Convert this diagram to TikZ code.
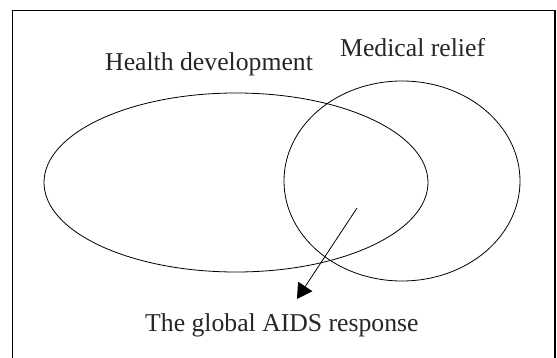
\documentclass[tikz,border=0pt]{standalone}
\usepackage{fontspec}
\setmainfont{Liberation Serif}
\usetikzlibrary{shapes.geometric,arrows.meta}
\tikzset{
  lbl/.style={anchor=base west, inner sep=0pt, font=\fontsize{25.7}{28}\selectfont, text=black!85},
  setshape/.style={draw, ellipse, inner sep=0pt, line width=0.8pt},
  pointer/.style={line width=0.8pt, -{Triangle[length=15pt,width=17pt]}}
}
\begin{document}
\begin{tikzpicture}[x=1pt,y=-1pt]
\useasboundingbox (0,0) rectangle (557,358);
% frame
\draw[line width=1.4pt] (12.5,360) -- (12.5,10.5) -- (555,10.5) -- (555,360);
% sets
\node[setshape, minimum width=384pt, minimum height=179pt] (health) at (236,182.5) {};
\node[setshape, minimum width=236pt, minimum height=200pt] (medical) at (402,181) {};
% labels
\node[lbl] (hlabel) at (105,71) {Health development};
\node[lbl] (mlabel) at (340,57) {Medical relief};
\node[lbl] (alabel) at (145,331) {The global AIDS response};
% arrow
\coordinate (astart) at (357,208);
\coordinate (aend) at (297,299);
\draw[pointer] (astart) -- (aend);
\end{tikzpicture}
\end{document}
